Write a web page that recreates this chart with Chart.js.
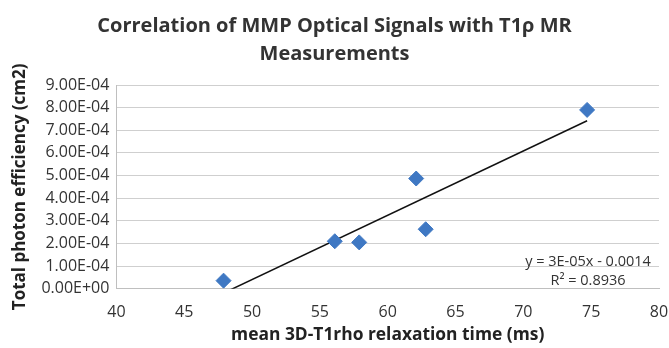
<!DOCTYPE html>
<html>
<head>
<meta charset="utf-8">
<script src="https://cdn.jsdelivr.net/npm/chart.js@4/dist/chart.umd.min.js"></script>
<style>
html,body{margin:0;padding:0;background:#fff;}
#wrap{width:669px;height:348px;position:relative;}
</style>
</head>
<body>
<div id="wrap"><canvas id="c" width="669" height="348"></canvas></div>
<script>
// Data
const relaxationTimes = [47.9, 56.1, 57.9, 62.1, 62.8, 74.7];          // ms
const photonEfficiency = [0.36e-4, 2.1e-4, 2.05e-4, 4.87e-4, 2.63e-4, 7.9e-4]; // cm2
const xTicks = [40, 45, 50, 55, 60, 65, 70, 75, 80];
const yTicks = [0, 1e-4, 2e-4, 3e-4, 4e-4, 5e-4, 6e-4, 7e-4, 8e-4, 9e-4];
const titleLines = ['Correlation of MMP Optical Signals with T1\u03C1 MR', 'Measurements'];
const xTitle = 'mean 3D-T1rho relaxation time (ms)';
const yTitle = 'Total photon efficiency (cm2)';
const trendLabels = ['y = 3E-05x - 0.0014', 'R\u00B2 = 0.8936'];

// Linear least-squares trendline computed from the data
const n = relaxationTimes.length;
const mx = relaxationTimes.reduce((a, b) => a + b, 0) / n;
const my = photonEfficiency.reduce((a, b) => a + b, 0) / n;
let sxy = 0, sxx = 0;
for (let i = 0; i < n; i++) {
  sxy += (relaxationTimes[i] - mx) * (photonEfficiency[i] - my);
  sxx += (relaxationTimes[i] - mx) ** 2;
}
const slope = sxy / sxx;
const intercept = my - slope * mx;
const xMin = Math.min(...relaxationTimes), xMax = Math.max(...relaxationTimes);
const trend = [xMin, xMax].map(x => ({x, y: slope * x + intercept}));

function fmtExp(v) {
  if (Math.abs(v) < 1e-12) return '0.00E+00';
  const s = v.toExponential(2).toUpperCase();
  const m = s.match(/^(.*)E([+-])(\d+)$/);
  return m[1] + 'E' + m[2] + m[3].padStart(2, '0');
}

const FONT = '"Open Sans", Lato, sans-serif';

const extraText = {
  id: 'extraText',
  afterDraw(chart) {
    const {ctx, chartArea} = chart;
    ctx.save();
    ctx.fillStyle = '#333';
    ctx.textAlign = 'center';
    ctx.textBaseline = 'middle';
    ctx.font = '14.5px ' + FONT;
    const cx = chartArea.right - 71;
    ctx.fillText(trendLabels[0], cx, chartArea.bottom - 27);
    ctx.fillText(trendLabels[1], cx, chartArea.bottom - 8);
    // x axis title
    ctx.fillStyle = '#222';
    ctx.font = 'bold 17.4px ' + FONT;
    ctx.fillText(xTitle, (chartArea.left + chartArea.right) / 2, chartArea.bottom + 46);
    ctx.restore();
  }
};

new Chart(document.getElementById('c'), {
  type: 'scatter',
  data: {
    datasets: [
      {
        label: 'Signals',
        data: relaxationTimes.map((x, i) => ({x, y: photonEfficiency[i]})),
        pointStyle: 'rectRot',
        pointRadius: 7.5,
        pointBackgroundColor: '#3f78c3',
        pointBorderColor: '#3f78c3',
        pointBorderWidth: 1,
        showLine: false
      },
      {
        label: 'Trend',
        type: 'line',
        data: trend,
        borderColor: '#111',
        borderWidth: 1.5,
        pointRadius: 0,
        fill: false
      }
    ]
  },
  options: {
    responsive: false,
    animation: false,
    layout: {padding: {left: 10, right: 10, top: 12, bottom: 12}},
    plugins: {
      legend: {display: false},
      tooltip: {enabled: false},
      title: {
        display: true,
        text: titleLines,
        color: '#333',
        font: {family: FONT, size: 20, weight: 'bold', lineHeight: 1.4},
        padding: {top: 0, bottom: 17}
      }
    },
    scales: {
      x: {
        type: 'linear',
        min: 40, max: 80,
        afterBuildTicks: (axis) => { axis.ticks = xTicks.map(v => ({value: v})); },
        afterFit: (axis) => { axis.paddingRight = 2; },
        grid: {display: false, drawTicks: false, tickLength: 0},
        border: {display: true, color: '#bfbfbf', width: 1},
        ticks: {color: '#333', font: {family: FONT, size: 16}, padding: 14, autoSkip: false, maxRotation: 0},
        title: {display: false}
      },
      y: {
        type: 'linear',
        min: 0, max: 9e-4,
        afterBuildTicks: (axis) => { axis.ticks = yTicks.map(v => ({value: v})); },
        grid: {color: '#cfcfcf', lineWidth: 1, drawTicks: false, tickLength: 0},
        border: {display: true, color: '#bfbfbf', width: 1},
        ticks: {color: '#333', font: {family: FONT, size: 16}, padding: 7, autoSkip: false,
                callback: (v) => fmtExp(v)},
        title: {display: true, text: yTitle, color: '#222',
                font: {family: FONT, size: 17, weight: 'bold'}, padding: {top: 0, bottom: 4}}
      }
    }
  },
  plugins: [extraText]
});
</script>
</body>
</html>
